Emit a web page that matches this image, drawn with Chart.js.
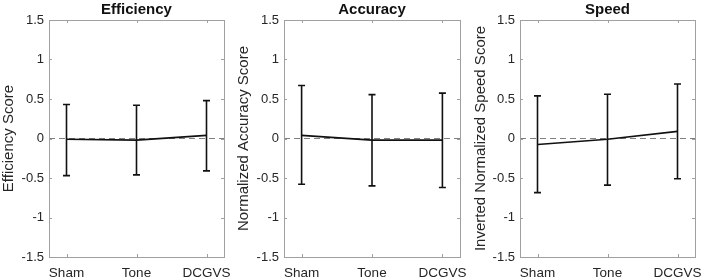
<!DOCTYPE html>
<html>
<head>
<meta charset="utf-8">
<script src="https://cdn.jsdelivr.net/npm/chart.js@4.4.1/dist/chart.umd.min.js"></script>
<style>
  body { margin: 0; background: #fff; }
  #wrap { position: relative; width: 704px; height: 280px; }
  #wrap canvas { position: absolute; top: 0; }
</style>
</head>
<body>
<div id="wrap">
  <canvas id="c1" width="234" height="280" style="left:0px"></canvas>
  <canvas id="c2" width="234" height="280" style="left:235px"></canvas>
  <canvas id="c3" width="234" height="280" style="left:470px"></canvas>
</div>
<script>
// data
var categories = ['Sham', 'Tone', 'DCGVS'];
var yTicks = [-1.5, -1, -0.5, 0, 0.5, 1, 1.5];

var effMean = [-0.01, -0.02, 0.04];
var effLow  = [-0.47, -0.46, -0.41];
var effHigh = [0.43, 0.42, 0.48];

var accMean = [0.04, -0.02, -0.02];
var accLow  = [-0.58, -0.60, -0.62];
var accHigh = [0.67, 0.555, 0.575];

var spdMean = [-0.075, -0.01, 0.09];
var spdLow  = [-0.685, -0.59, -0.51];
var spdHigh = [0.54, 0.56, 0.69];

var panelTitles = ['Efficiency', 'Accuracy', 'Speed'];
var yTitles = ['Efficiency Score', 'Normalized Accuracy Score', 'Inverted Normalized Speed Score'];

var FONT = "'Liberation Sans', Arial, Helvetica, sans-serif";
var TEXT = '#262626';

// title over the plot box, error bars, box and inward ticks
var matlabPlugin = {
  id: 'matlab',
  afterDatasetsDraw: function(chart) {
    var ctx = chart.ctx;
    var xs = chart.scales.x, ys = chart.scales.y;
    var o = chart.options.plugins.matlab;
    ctx.save();
    // error bars
    ctx.strokeStyle = '#111';
    ctx.lineWidth = 1.6;
    for (var i = 0; i < o.low.length; i++) {
      var px = xs.getPixelForValue(i + 1);
      var pl = ys.getPixelForValue(o.low[i]);
      var ph = ys.getPixelForValue(o.high[i]);
      ctx.beginPath();
      ctx.moveTo(px, pl); ctx.lineTo(px, ph);
      ctx.moveTo(px - 3.5, pl); ctx.lineTo(px + 3.5, pl);
      ctx.moveTo(px - 3.5, ph); ctx.lineTo(px + 3.5, ph);
      ctx.stroke();
    }
    // box
    var a = chart.chartArea;
    ctx.strokeStyle = '#a0a0a0';
    ctx.lineWidth = 1;
    ctx.strokeRect(Math.round(a.left) + 0.5, Math.round(a.top) + 0.5,
                   Math.round(a.right - a.left), Math.round(a.bottom - a.top));
    ctx.beginPath();
    yTicks.forEach(function(v) {
      var py = Math.round(ys.getPixelForValue(v)) + 0.5;
      ctx.moveTo(a.left, py); ctx.lineTo(a.left + 3, py);
      ctx.moveTo(a.right, py); ctx.lineTo(a.right - 3, py);
    });
    categories.forEach(function(c, i) {
      var px = Math.round(xs.getPixelForValue(i + 1)) + 0.5;
      ctx.moveTo(px, a.bottom); ctx.lineTo(px, a.bottom - 3);
      ctx.moveTo(px, a.top); ctx.lineTo(px, a.top + 3);
    });
    ctx.stroke();
    // title
    ctx.fillStyle = '#111';
    ctx.font = 'bold 15px ' + FONT;
    ctx.textAlign = 'center';
    ctx.textBaseline = 'middle';
    ctx.fillText(o.title, (a.left + a.right) / 2, 10);
    ctx.restore();
  }
};

function makePanel(id, mean, low, high, title, yTitle, yWidth, padRight, titlePad) {
  var meanPts = mean.map(function(v, i) { return { x: i + 1, y: v }; });
  var zeroPts = [{ x: 0.75, y: 0 }, { x: 3.25, y: 0 }];
  new Chart(document.getElementById(id), {
    type: 'line',
    data: {
      datasets: [
        {
          data: meanPts,
          borderColor: '#111',
          borderWidth: 1.6,
          pointRadius: 0,
          tension: 0
        },
        {
          data: zeroPts,
          borderColor: '#808080',
          borderWidth: 1,
          borderDash: [6, 4],
          pointRadius: 0
        }
      ]
    },
    options: {
      responsive: false,
      animation: false,
      events: [],
      layout: { padding: { top: 20, right: padRight, bottom: 0, left: 0 } },
      plugins: {
        legend: { display: false },
        tooltip: { enabled: false },
        matlab: { low: low, high: high, title: title }
      },
      scales: {
        x: {
          type: 'linear',
          min: 0.75,
          max: 3.25,
          grid: { display: false, drawTicks: false },
          border: { display: false },
          afterBuildTicks: function(s) {
            s.ticks = categories.map(function(c, i) { return { value: i + 1 }; });
          },
          afterFit: function(s) { s.height = 23; s.paddingLeft = 0; s.paddingRight = 0; },
          ticks: {
            padding: 8,
            maxRotation: 0,
            autoSkip: false,
            color: TEXT,
            font: { family: FONT, size: 13.5 },
            callback: function(v) { return categories[v - 1]; }
          }
        },
        y: {
          min: -1.5,
          max: 1.5,
          grid: { display: false, drawTicks: false },
          border: { display: false },
          afterBuildTicks: function(s) {
            s.ticks = yTicks.map(function(v) { return { value: v }; });
          },
          afterFit: function(s) { s.width = yWidth; s.paddingTop = 0; s.paddingBottom = 0; },
          ticks: {
            padding: 5,
            color: TEXT,
            font: { family: FONT, size: 13 },
            callback: function(v) { return String(v); }
          },
          title: {
            display: true,
            text: yTitle,
            color: TEXT,
            padding: { top: titlePad, bottom: 0 },
            font: { family: FONT, size: 15 }
          }
        }
      }
    },
    plugins: [matlabPlugin]
  });
}

makePanel('c1', effMean, effLow, effHigh, panelTitles[0], yTitles[0], 49, 10, 0);
makePanel('c2', accMean, accLow, accHigh, panelTitles[1], yTitles[1], 49, 9, 0);
makePanel('c3', spdMean, spdLow, spdHigh, panelTitles[2], yTitles[2], 50, 9, 2);
</script>
</body>
</html>
